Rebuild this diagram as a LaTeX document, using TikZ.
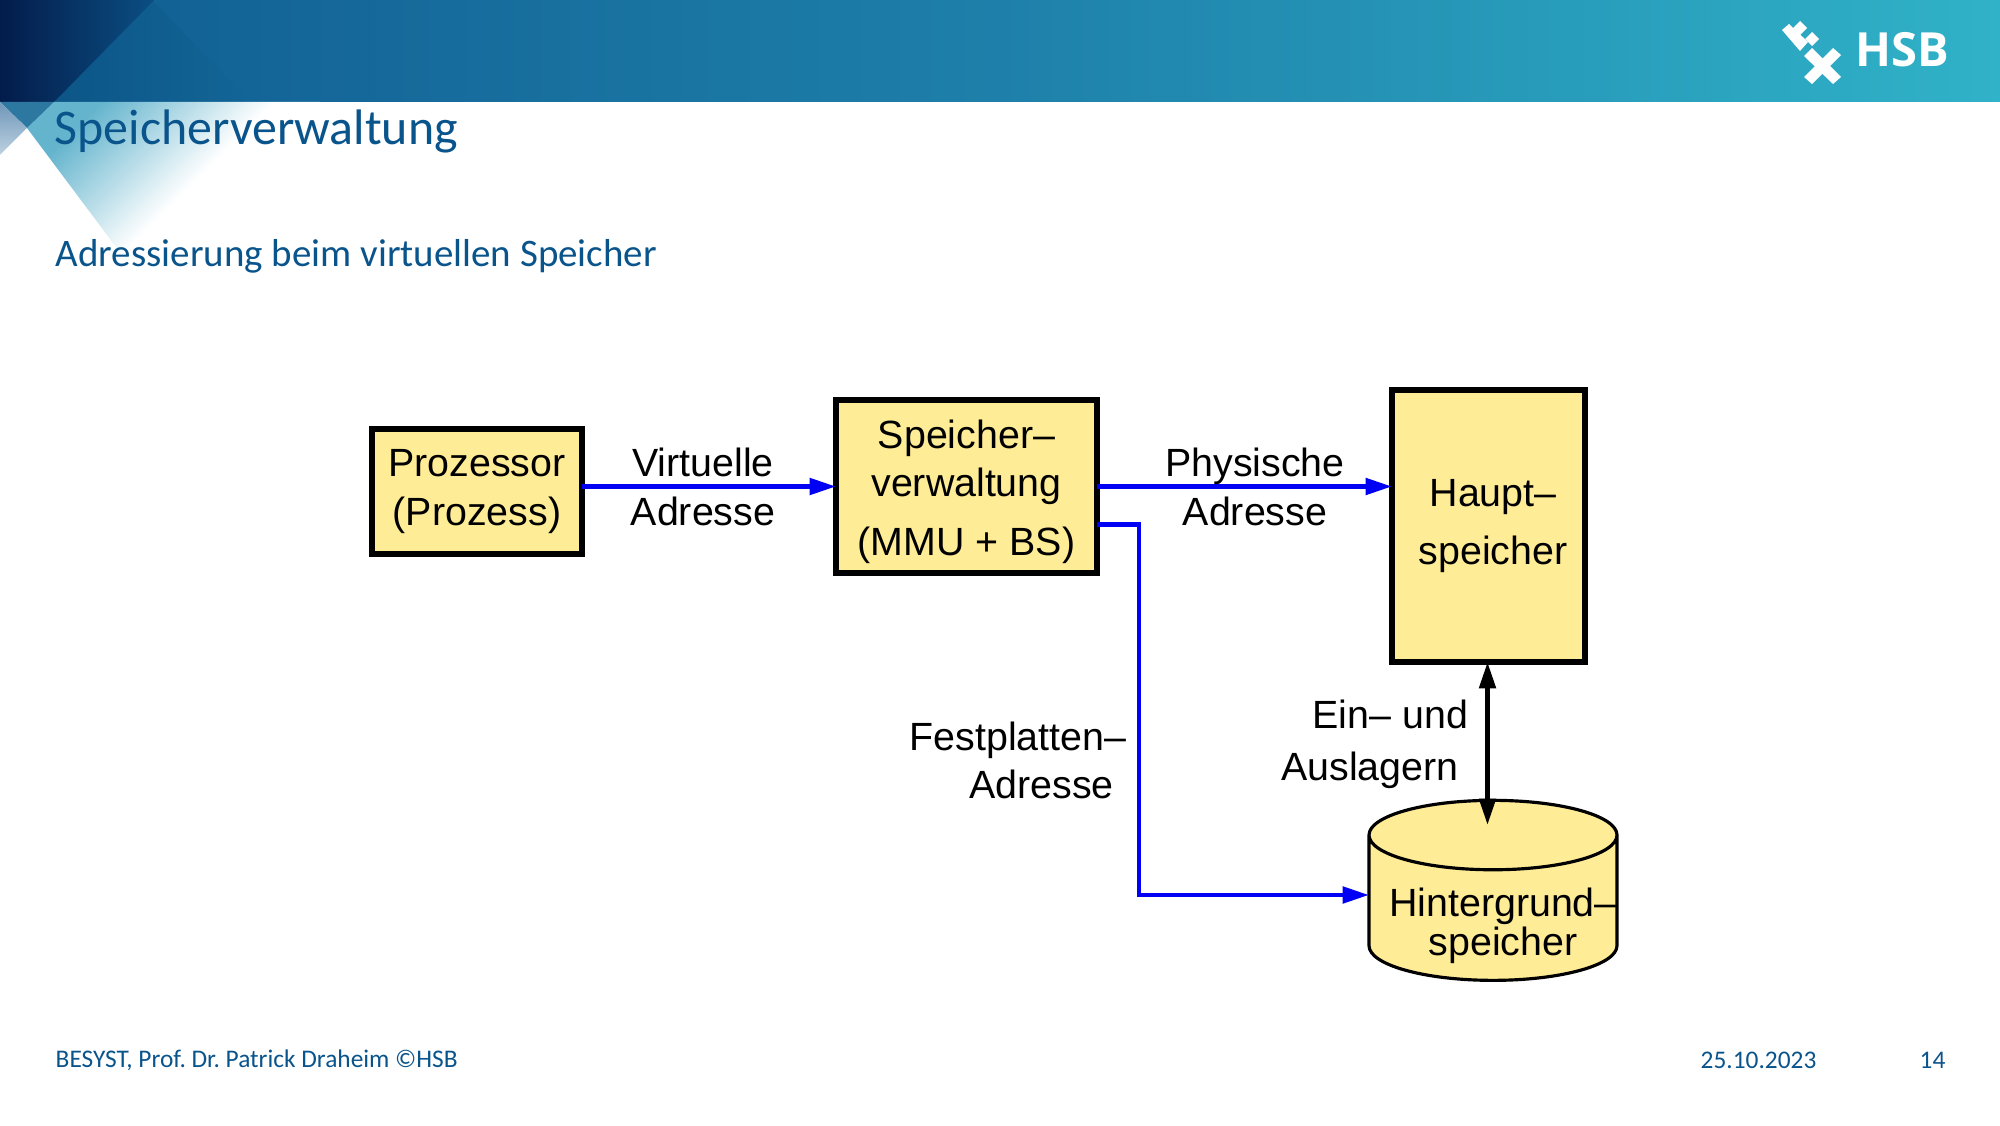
\documentclass[tikz,border=0pt]{standalone}
\usepackage{fontspec}
\setmainfont{Carlito}
\newfontfamily\diagfont{Liberation Sans}
\newfontfamily\logofont{Open Sans}
\usetikzlibrary{arrows.meta,shapes.geometric,calc}
\frenchspacing
\definecolor{hsb_dark}{RGB}{3, 28, 75}
\definecolor{hsb_navy}{RGB}{11, 78, 130}
\definecolor{hsb_over}{RGB}{12, 85, 135}
\definecolor{hsb_fade}{RGB}{19, 101, 151}
\definecolor{hsb_left}{RGB}{16, 92, 145}
\definecolor{hsb_mid}{RGB}{30, 128, 170}
\definecolor{hsb_right}{RGB}{48, 178, 200}
\definecolor{hsb_text}{RGB}{10, 84, 140}
\definecolor{hsb_teal}{RGB}{100, 180, 205}
\definecolor{hsb_tip}{RGB}{45, 120, 160}
\definecolor{hsb_grey}{RGB}{110, 150, 185}
\definecolor{hsb_pale}{RGB}{190, 210, 225}
\definecolor{box_yellow}{RGB}{255, 236, 150}
\definecolor{line_blue}{RGB}{0, 0, 245}
\tikzstyle{boxnode}=[rectangle,fill=box_yellow,draw=black,line width=1.45pt,
  inner sep=0pt,outer sep=0pt,align=center,text=black,font=\diagfont\fontsize{11.2}{13.7}\selectfont]
\tikzstyle{disknode}=[cylinder,shape border rotate=90,aspect=0.305,cylinder uses custom fill,
  cylinder body fill=box_yellow,cylinder end fill=box_yellow,draw=black,line width=0.9pt,
  inner sep=0pt,outer sep=0pt,font=\diagfont\fontsize{11.2}{11.2}\selectfont]
\tikzstyle{lbl}=[align=center,inner sep=0pt,font=\diagfont\fontsize{11.2}{13.7}\selectfont]
\tikzstyle{bluearrow}=[draw=line_blue,line width=1.3pt,-{Triangle[length=7.5pt,width=4.6pt]}]
\tikzstyle{swaparrow}=[draw=black,line width=1.3pt,{Triangle[length=7.5pt,width=4.6pt]}-{Triangle[length=7.5pt,width=4.6pt]}]
\tikzstyle{slidetext}=[anchor=west,inner sep=0pt,text=hsb_text]
\tikzstyle{foottext}=[anchor=west,inner sep=0pt,text=hsb_text,font=\fontsize{7.22}{9}\selectfont]
\begin{document}
\begin{tikzpicture}
            \useasboundingbox (0, 0) rectangle (20, 11.25);
            \shade [left color=hsb_left, right color=hsb_right, middle color=hsb_mid] (0, 10.23) rectangle (20, 11.25);
            \begin{scope}
                \clip (1.52, 11.25) -- (2.5, 10.23) -- (0.54, 10.23) -- cycle;
                \shade [left color=hsb_over, right color=hsb_fade] (0.5, 10.23) rectangle (2.5, 11.25);
            \end{scope}
            \begin{scope}
                \clip (0, 11.25) -- (1.54, 11.25) -- (0.54, 10.23) -- (0, 10.23) -- cycle;
                \shade [left color=hsb_dark, right color=hsb_navy] (0, 10.23) rectangle (1.54, 11.25);
            \end{scope}
            \begin{scope}
                \clip (0.54, 10.23) -- (3.2, 10.23) -- (1.22, 8.7) -- (0.27, 9.97) -- cycle;
                \shade [left color=hsb_teal, right color=white, middle color=white, shading angle=45] (0.27, 8.7) rectangle (3.69, 10.23);
            \end{scope}
            \fill [hsb_tip] (0, 10.23) -- (0.54, 10.23) -- (0.27, 9.97) -- cycle;
            \begin{scope}
                \clip (0, 10.23) -- (0.27, 9.97) -- (0, 9.7) -- cycle;
                \shade [top color=hsb_grey, bottom color=hsb_pale] (0, 9.7) rectangle (0.27, 10.23);
            \end{scope}
            \fill [white] (18.00, 11.04) -- (18.07, 10.97) -- (18.00, 10.90) -- (17.93, 10.97) -- cycle;
            \fill [white] (18.12, 10.93) -- (18.19, 10.86) -- (18.12, 10.79) -- (18.05, 10.86) -- cycle;
            \fill [white] (17.82, 10.95) -- (17.89, 11.01) -- (18.08, 10.83) -- (18.00, 10.74) -- cycle;
            \fill [white] (18.04, 10.69) -- (18.12, 10.77) -- (18.41, 10.48) -- (18.33, 10.41) -- cycle;
            \fill [white] (18.33, 10.77) -- (18.41, 10.70) -- (18.12, 10.41) -- (18.04, 10.48) -- cycle;
            \node [inner sep=0pt,text=white,font=\logofont\bfseries\fontsize{13.4}{15}\selectfont] (logo) at (19.02, 10.75) {HSB};
            \node [slidetext,font=\fontsize{14.2}{16}\selectfont] (title) at (0.54, 9.935) {Speicherverwaltung};
            \node [slidetext,font=\fontsize{11.09}{13}\selectfont] (subtitle) at (0.55, 8.69) {Adressierung beim virtuellen Speicher};
            \node [foottext] (foot) at (0.55, 0.65) {BESYST, Prof. Dr. Patrick Draheim ©HSB};
            \node [foottext] (date) at (17.00, 0.65) {25.10.2023};
            \node [foottext] (page) at (19.19, 0.65) {14};
            \node [boxnode,minimum width=2.10cm,minimum height=1.25cm] (prozessor) at (4.77, 6.335) {Prozessor\\(Prozess)};
            \node [boxnode,minimum width=2.61cm,minimum height=1.73cm] (speicher) at (9.665, 6.385) {\rule{0pt}{11pt}Speicher–\\verwaltung\\[2.9pt](MMU + BS)};
            \node [boxnode,minimum width=1.93cm,minimum height=2.72cm] (haupt) at (14.885, 5.99) {\hspace*{2.6pt}Haupt–\\[2.6pt]\hspace*{2.6pt}speicher};
            \node [disknode,minimum width=2.48cm,minimum height=1.80cm] (platte) at (14.93, 2.165) {\phantom{Hintergrund–}};
            \node [lbl,font=\diagfont\fontsize{11.2}{11.2}\selectfont] (plattetext) at (15.03, 1.99) {Hintergrund–\\speicher};
            \node [lbl] (virtuell) at (7.03, 6.38) {Virtuelle\\Adresse};
            \node [lbl] (physisch) at (12.55, 6.38) {Physische\\Adresse};
            \node [lbl,align=right,anchor=east] (fest) at (11.27, 3.65) {Festplatten–\\Adresse\hspace*{3.6pt}};
            \node [lbl] (auslagern) at (13.70, 3.81) {\hspace{11.6pt}Ein– und\\[1pt]Auslagern};
            \coordinate (swapend) at (14.875, 3.0);
            \draw [bluearrow] (prozessor.east |- speicher.west) -- (speicher.west);
            \draw [bluearrow] (speicher.east) -- (haupt.west |- speicher.east);
            \draw [bluearrow] ([yshift=-0.38cm]speicher.east) -- ++(0.42, 0) |- ([yshift=0.135cm]platte.west);
            \draw [swaparrow] (haupt.south -| swapend) -- (swapend);
    \end{tikzpicture}
\end{document}
